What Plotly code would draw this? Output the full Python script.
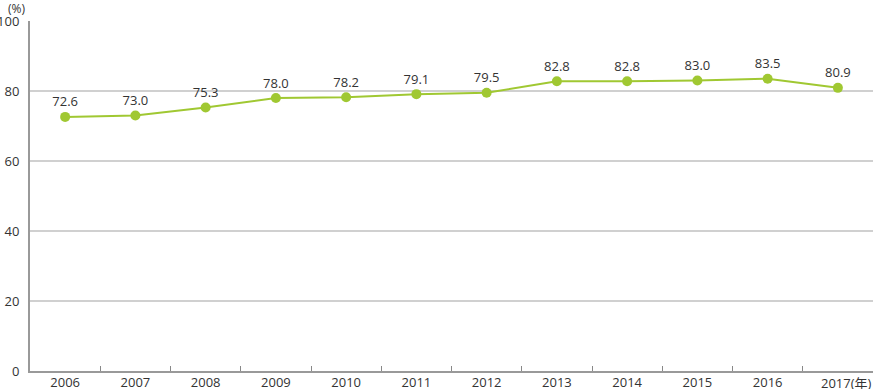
import plotly.graph_objects as go

years = ["2006", "2007", "2008", "2009", "2010", "2011", "2012", "2013", "2014", "2015", "2016", "2017"]
tick_labels = ["2006", "2007", "2008", "2009", "2010", "2011", "2012", "2013", "2014", "2015", "2016", ""]
last_label = "2017(年)"
values = [72.6, 73.0, 75.3, 78.0, 78.2, 79.1, 79.5, 82.8, 82.8, 83.0, 83.5, 80.9]
value_labels = [f"{v:.1f}" for v in values]

green = "#a0c832"
font = "Open Sans, Noto Sans CJK JP, sans-serif"
txt = "#333333"

fig = go.Figure()
fig.add_trace(go.Scatter(
    x=years, y=values, mode="lines+markers+text",
    line=dict(color=green, width=2),
    marker=dict(color=green, size=10),
    text=value_labels, textposition="top center",
    textfont=dict(size=13, color=txt, family=font),
    cliponaxis=False,
    hoverinfo="x+y",
))

fig.update_layout(
    width=876, height=389,
    margin=dict(l=30, r=3, t=21, b=18, autoexpand=False),
    plot_bgcolor="white", paper_bgcolor="white",
    showlegend=False,
    font=dict(family=font, size=13, color=txt),
    xaxis=dict(
        type="category", tickvals=years, ticktext=tick_labels,
        tickson="boundaries", ticks="inside", ticklen=5, tickcolor="#888888",
        showline=True, linecolor="#999999", linewidth=2,
        showgrid=False, range=[-0.5, 11.5], fixedrange=True,
        automargin=False, ticklabelstandoff=-2,
        tickfont=dict(size=13, color=txt),
    ),
    yaxis=dict(
        range=[0, 100], tickvals=[0, 20, 40, 60, 80, 100],
        showline=True, linecolor="#999999", linewidth=2,
        showgrid=True, gridcolor="#d0d0d0", gridwidth=1.5,
        ticks="", ticklabelstandoff=6, zeroline=False, automargin=False,
        fixedrange=True, tickfont=dict(size=13, color=txt),
    ),
    annotations=[
        dict(text="(%)", xref="paper", yref="paper", x=0, y=1, xshift=-4, yshift=22,
             xanchor="right", yanchor="top", showarrow=False, borderpad=0,
             font=dict(size=12, color=txt, family=font)),
        dict(text=last_label, xref="paper", yref="paper", x=1, y=0, xshift=0, yshift=-2,
             xanchor="right", yanchor="top", showarrow=False, borderpad=0,
             font=dict(size=13, color=txt, family=font)),
    ],
)

fig.write_html("out.html", config={"displayModeBar": False},
               post_script="document.body.style.margin='0';document.body.style.overflow='hidden';")
